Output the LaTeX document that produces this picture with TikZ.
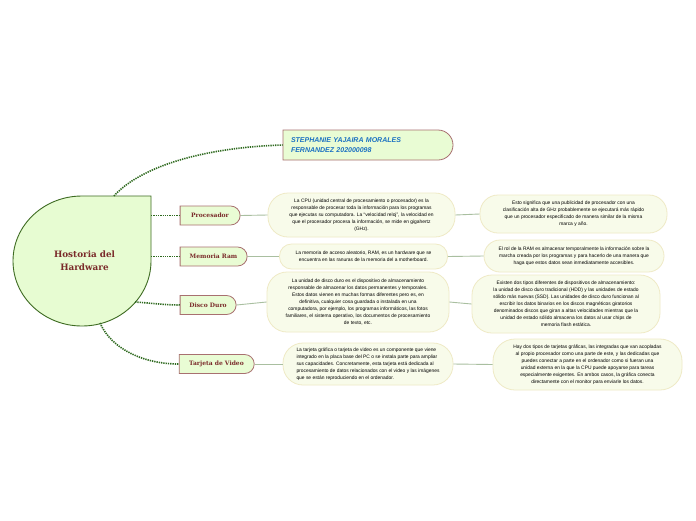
\documentclass[tikz,border=0pt]{standalone}
\usepackage{fontspec}
\setmainfont{Liberation Sans}
\newfontfamily\topicfont{DejaVu Serif}
\usetikzlibrary{shapes.misc,backgrounds}
\definecolor{hubB}{HTML}{3E6B22}
\definecolor{hubF}{HTML}{E7FCD2}
\definecolor{topB}{HTML}{A87070}
\definecolor{topF}{HTML}{E9FCD4}
\definecolor{topT}{HTML}{7A2A2A}
\definecolor{descB}{HTML}{EFEAC6}
\definecolor{descF}{HTML}{F8FBEA}
\definecolor{dotG}{HTML}{2F6A1F}
\definecolor{lineG}{HTML}{A9BFA0}
\definecolor{nameT}{HTML}{1A70C2}
\tikzset{
  desc/.style={rectangle, rounded corners=#1, draw=descB, fill=descF, line width=0.8pt,
    inner sep=0pt, align=center, font=\fontsize{4.9}{7}\selectfont, text=black},
  topic/.style={rounded rectangle, rounded rectangle west arc=none, draw=topB, fill=topF,
    line width=0.8pt, inner sep=0pt, font=\topicfont\bfseries\fontsize{6}{7}\selectfont, text=topT},
  dotc/.style={draw=dotG, line width=1.6pt, dash pattern=on 1.3pt off 1pt},
  solidc/.style={draw=lineG, line width=0.9pt},
}
\begin{document}
\begin{tikzpicture}[x=1pt,y=1pt]
\useasboundingbox[fill=white] (0,0) rectangle (696,-520);
% central shape
\draw[draw=hubB, fill=hubF, line width=0.9pt] (151,-196) -- (82,-196)
  arc[start angle=90, end angle=360, x radius=69pt, y radius=65pt] -- cycle;
\node[font=\topicfont\bfseries\fontsize{8.8}{13}\selectfont, text=topT, align=center] (hub) at (84.5,-260.5) {Hostoria del\\Hardware};
\coordinate (hs) at (114,-196);
\coordinate (hp) at (151,-215.5);
\coordinate (hm) at (151,-256.5);
\coordinate (hd) at (135,-302);
\coordinate (ht) at (100,-323);

% name box
\node[rounded rectangle, rounded rectangle west arc=none, draw=topB, fill=topF, line width=0.8pt,
  minimum width=170pt, minimum height=30pt, inner sep=0pt, text width=152pt, align=left,
  font=\bfseries\itshape\fontsize{7}{10}\selectfont, text=nameT] (name) at (367,-145)
  {STEPHANIE YAJAIRA MORALES\\FERNANDEZ 202000098};

% topics
\node[topic, minimum width=60pt, minimum height=19pt] (proc) at (210,-215.5) {Procesador};
\node[topic, minimum width=67pt, minimum height=19pt] (mem) at (213.5,-256.5) {Memoria Ram};
\node[topic, minimum width=56pt, minimum height=19pt] (disc) at (208,-305) {Disco Duro};
\node[topic, minimum width=75pt, minimum height=19pt] (tarj) at (216.5,-364) {Tarjeta de Video};

% descriptions
\node[desc=20pt, minimum width=187pt, minimum height=44pt] (pd1) at (361.5,-215)
 {La CPU (unidad central de procesamiento o procesador) es la\\
  responsable de procesar toda la información para los programas\\
  que ejecutas su computadora. La ``velocidad reloj'', la velocidad en\\
  que el procesador procesa la información, se mide en gigahertz\\
  (GHz).};
\node[desc=18pt, minimum width=187pt, minimum height=38pt] (pd2) at (573.5,-214)
 {Esto significa que una publicidad de procesador con una\\
  clasificación alta de GHz probablemente se ejecutará más rápido\\
  que un procesador especificado de manera similar de la misma\\
  marca y año.};
\node[desc=12pt, minimum width=168pt, minimum height=25pt] (md1) at (363.5,-256.5)
 {La memoria de acceso aleatorio, RAM, es un hardware que se\\
  encuentra en las ranuras de la memoria del a motherboard.};
\node[desc=16pt, minimum width=180pt, minimum height=32pt] (md2) at (574,-256)
 {El rol de la RAM es almacenar temporalmente la información sobre la\\
  marcha creada por los programas y para hacerlo de una manera que\\
  haga que estos datos sean inmediatamente accesibles.};
\node[desc=20pt, minimum width=182pt, minimum height=60pt] (dd1) at (358,-302)
 {La unidad de disco duro es el dispositivo de almacenamiento\\
  responsable de almacenar los datos permanentes y temporales.\\
  Estos datos vienen en muchas formas diferentes pero es, en\\
  definitiva, cualquier cosa guardada o instalada en una\\
  computadora, por ejemplo, los programas informáticos, las fotos\\
  familiares, el sistema operativo, los documentos de procesamiento\\
  de texto, etc.};
\node[desc=20pt, minimum width=188pt, minimum height=58pt] (dd2) at (566,-304)
 {Existen dos tipos diferentes de dispositivos de almacenamiento:\\
  la unidad de disco duro tradicional (HDD) y las unidades de estado\\
  sólido más nuevas (SSD). Las unidades de disco duro funcionan al\\
  escribir los datos binarios en los discos magnéticos giratorios\\
  denominados discos que giran a altas velocidades mientras que la\\
  unidad de estado sólido almacena los datos al usar chips de\\
  memoria flash estática.};
\node[desc=20pt, minimum width=170pt, minimum height=42pt, align=left] (td1) at (368,-364)
 {La tarjeta gráfica o tarjeta de video es un componente que viene\\
  integrado en la placa base del PC o se instala parte para ampliar\\
  sus capacidades. Concretamente, esta tarjeta está dedicada al\\
  procesamiento de datos relacionados con el video y las imágenes\\
  que se están reproduciendo en el ordenador.};
\node[desc=22pt, minimum width=189pt, minimum height=51pt] (td2) at (587.5,-364.5)
 {Hay dos tipos de tarjetas gráficas, las integradas que van acopladas\\
  al propio procesador como una parte de este, y las dedicadas que\\
  puedes conectar a parte en el ordenador como si fueran una\\
  unidad externa en la que la CPU puede apoyarse para tareas\\
  especialmente exigentes. En ambos casos, la gráfica conecta\\
  directamente con el monitor para enviarle los datos.};

% dotted connectors
\draw[dotc] (hs) .. controls (135,-172) and (190,-148) .. (name.west);
\draw[dotc] (hp) -- (proc.west);
\draw[dotc] (hm) -- (mem.west);
\draw[dotc] (hd) .. controls (150,-303) and (165,-305) .. (disc.west);
\draw[dotc] (ht) .. controls (112,-350) and (145,-364) .. (tarj.west);

% solid connectors
\draw[solidc] (proc.east) -- (pd1.west);
\draw[solidc] (pd1.east) -- (pd2.west);
\draw[solidc] (mem.east) -- (md1.west);
\draw[solidc] (md1.east) -- (md2.west);
\draw[solidc] (disc.east) -- (dd1.west);
\draw[solidc] (dd1.east) -- (dd2.west);
\draw[solidc] (tarj.east) -- (td1.west);
\draw[solidc] (td1.east) -- (td2.west);
\end{tikzpicture}
\end{document}
